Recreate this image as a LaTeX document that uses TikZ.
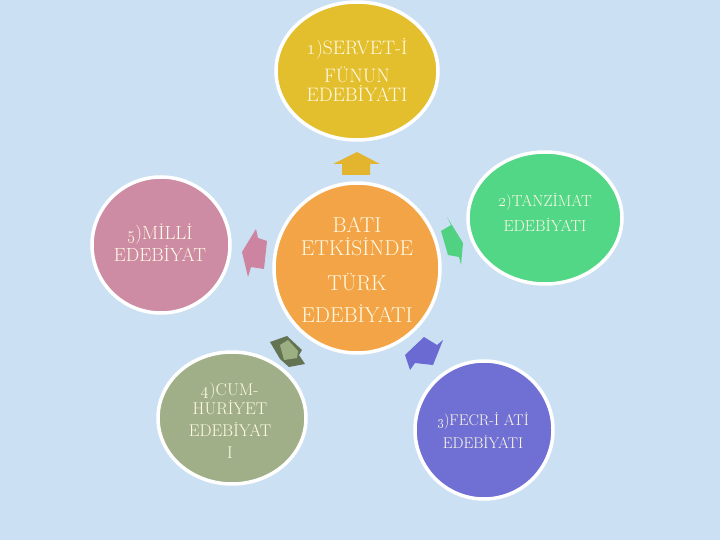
\documentclass[tikz,border=0pt]{standalone}
\usetikzlibrary{shapes.geometric}
\definecolor{bg}{RGB}{204,224,243}
\definecolor{txt}{RGB}{255,250,228}
\definecolor{cyel}{RGB}{227,190,45}
\definecolor{cora}{RGB}{242,164,70}
\definecolor{cpink}{RGB}{205,140,163}
\definecolor{cgreen}{RGB}{82,215,135}
\definecolor{cpurp}{RGB}{112,112,212}
\definecolor{cgray}{RGB}{160,175,135}
\definecolor{apink}{RGB}{205,132,160}
\definecolor{agreen}{RGB}{80,210,130}
\definecolor{adark}{RGB}{100,115,82}
\definecolor{alight}{RGB}{155,175,130}
\definecolor{apurp}{RGB}{106,106,210}
\definecolor{ayel}{RGB}{227,180,45}
\begin{document}
\begin{tikzpicture}[x=1pt,y=-1pt,
  disc/.style={ellipse, draw=white, line width=3.5pt, inner sep=0pt},
  lbl/.style={anchor=base, text=txt, inner sep=0pt},
  blk/.style={line join=miter}]
\path[fill=bg] (0,0) rectangle (720,540);
\useasboundingbox (0,0) rectangle (720,540);

% discs
\node[disc, fill=cyel, minimum width=162pt, minimum height=138pt] (servet) at (357,71) {};
\node[disc, fill=cora, minimum width=166pt, minimum height=170pt] (bati) at (357,268) {};
\node[disc, fill=cpink, minimum width=138pt, minimum height=136pt] (milli) at (161,245) {};
\node[disc, fill=cgreen, minimum width=154pt, minimum height=132pt] (tanzimat) at (545,218) {};
\node[disc, fill=cgray, minimum width=148pt, minimum height=132pt] (cum) at (232,418) {};
\node[disc, fill=cpurp, minimum width=138pt, minimum height=138pt] (fecr) at (484,430) {};

% block arrows
\fill[ayel, blk] (357,152) -- (380,164) -- (370,164) -- (370,175) -- (342,175) -- (342,164) -- (333,164) -- cycle;
\fill[apink, blk] (256,229) -- (242,252) -- (248,277) -- (251,267) -- (264,269) -- (267,241) -- (258,238) -- cycle;
\fill[agreen, blk] (447,217) -- (451,225) -- (441,231) -- (448,255) -- (459,257) -- (461,265) -- (463,243) -- cycle;
\fill[apurp, blk] (405,355) -- (424,337) -- (437,345) -- (443,340) -- (433,365) -- (415,363) -- (410,370) -- cycle;
\fill[adark, blk] (270,342) -- (287,336) -- (302,350) -- (299,355) -- (305,364) -- (289,367) -- (280,359) -- cycle;
\fill[alight, blk] (280,345) -- (288,340) -- (298,351) -- (297,358) -- (284,360) -- cycle;

% labels
\node[lbl, font=\fontsize{19.5}{22}\selectfont] (s1) at (357,54.5) {\oldstylenums{1})SERVET-İ};
\node[lbl, font=\fontsize{19.5}{22}\selectfont] (s2) at (357,83) {FÜNUN};
\node[lbl, font=\fontsize{19.5}{22}\selectfont] (s3) at (357,101.5) {EDEBİYATI};

\node[lbl, font=\fontsize{21.5}{24}\selectfont] (b1) at (357,233) {BATI};
\node[lbl, font=\fontsize{21.5}{24}\selectfont] (b2) at (357,255) {ETKİSİNDE};
\node[lbl, font=\fontsize{21.5}{24}\selectfont] (b3) at (357,290) {TÜRK};
\node[lbl, font=\fontsize{21.5}{24}\selectfont] (b4) at (357,322) {EDEBİYATI};

\node[lbl, font=\fontsize{19}{22}\selectfont] (m1) at (160,240) {\oldstylenums{5})MİLLİ};
\node[lbl, font=\fontsize{19}{22}\selectfont] (m2) at (160,261) {EDEBİYAT};

\node[lbl, font=\fontsize{16}{19}\selectfont] (t1) at (545,207) {\oldstylenums{2})TANZİMAT};
\node[lbl, font=\fontsize{16}{19}\selectfont] (t2) at (545,231) {EDEBİYATI};

\node[lbl, font=\fontsize{17}{20}\selectfont] (c1) at (230,395) {\oldstylenums{4})CUM-};
\node[lbl, font=\fontsize{17}{20}\selectfont] (c2) at (230,414) {HURİYET};
\node[lbl, font=\fontsize{17}{20}\selectfont] (c3) at (230,436.5) {EDEBİYAT};
\node[lbl, font=\fontsize{17}{20}\selectfont] (c4) at (230,458) {I};

\node[lbl, font=\fontsize{15.5}{18}\selectfont] (f1) at (483,425) {\oldstylenums{3})FECR-İ ATİ};
\node[lbl, font=\fontsize{15.5}{18}\selectfont] (f2) at (483,448) {EDEBİYATI};
\end{tikzpicture}
\end{document}
